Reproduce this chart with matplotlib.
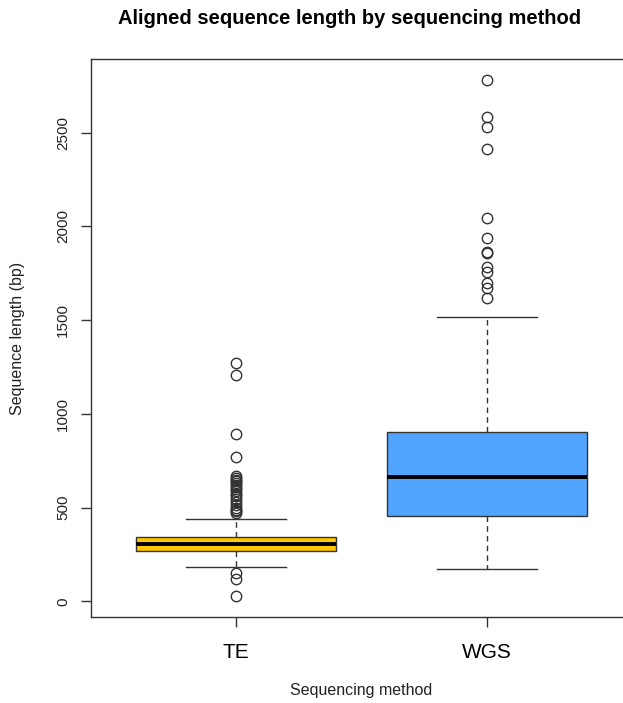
import matplotlib
matplotlib.use("Agg")
import matplotlib.pyplot as plt

categories = ["TE", "WGS"]
q1 = [267, 458]
median = [304, 661]
q3 = [341, 906]
whisker_low = [181, 171]
whisker_high = [437, 1519]
te_outliers = [1274, 1205, 895, 768, 667, 660, 650, 640, 630, 620, 610, 600, 590,
               575, 560, 545, 530, 515, 500, 490, 480, 470, 149, 117, 27]
wgs_outliers = [2783, 2585, 2532, 2415, 2047, 1940, 1862, 1858, 1786, 1759, 1700,
                1674, 1620]
outliers = [te_outliers, wgs_outliers]
colors = ["#FFC800", "#52A5FF"]
yticks = [0, 500, 1000, 1500, 2000, 2500]

plt.rcParams['font.family'] = ['Liberation Sans', 'DejaVu Sans']

W, H = 623, 703
fig = plt.figure(figsize=(W / 100, H / 100), dpi=100)
left, right, top, bottom = 91, 632, 59, 617
ax = fig.add_axes([left / W, 1 - bottom / H, (right - left) / W, (bottom - top) / H])

stats = []
for i, c in enumerate(categories):
    stats.append(dict(label=c, q1=q1[i], med=median[i], q3=q3[i],
                      whislo=whisker_low[i], whishi=whisker_high[i],
                      fliers=outliers[i]))

bp = ax.bxp(stats, positions=[1, 2], widths=0.8, patch_artist=True,
            showfliers=True,
            boxprops=dict(edgecolor="#333333", linewidth=1.0),
            medianprops=dict(color="black", linewidth=2.8),
            whiskerprops=dict(color="#333333", linewidth=1.0, linestyle=(0, (4, 3))),
            capprops=dict(color="#333333", linewidth=1.0),
            flierprops=dict(marker="o", markerfacecolor="none",
                            markeredgecolor="#333333", markersize=7.5,
                            markeredgewidth=1.0))
for patch, col in zip(bp["boxes"], colors):
    patch.set_facecolor(col)
for cap in bp["caps"]:
    x = cap.get_xdata()
    c = (x[0] + x[1]) / 2
    cap.set_xdata([c - 0.2, c + 0.2])

ax.set_xlim(0.42, 2.58)
ymin, ymax = 27, 2783
rng = ymax - ymin
ax.set_ylim(ymin - 0.04 * rng, ymax + 0.04 * rng)

ax.set_yticks(yticks)
ax.set_yticklabels([str(t) for t in yticks], rotation=90, va="center",
                   fontsize=11, color="#222222")
ax.set_xticks([1, 2])
ax.set_xticklabels(categories, fontsize=15)
ax.tick_params(axis="both", length=7, width=1.0, color="#333333")
ax.tick_params(axis="y", pad=8)
ax.tick_params(axis="x", pad=12)
for s in ax.spines.values():
    s.set_color("#333333")
    s.set_linewidth(1.0)

fig.text(350 / W, 1 - 18 / H,
         "Aligned sequence length by sequencing method",
         ha="center", va="center", fontsize=14.5, fontweight="bold")
fig.text(18 / W, 1 - 338 / H, "Sequence length (bp)", rotation=90,
         ha="center", va="center", fontsize=11.5, color="#222222")
fig.text(361 / W, 1 - 690 / H, "Sequencing method", ha="center", va="center",
         fontsize=11.5, color="#222222")

fig.savefig("out.png", dpi=100)
